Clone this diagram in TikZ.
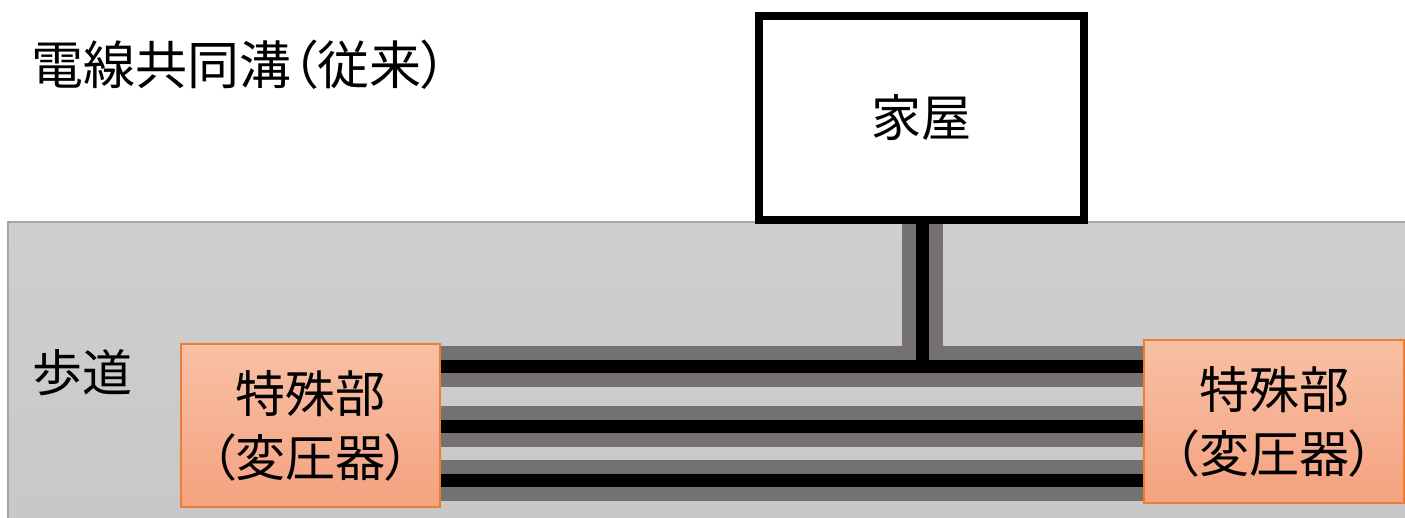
\documentclass[tikz,border=0pt]{standalone}
\usepackage{fontspec}
\setmainfont{Noto Sans CJK JP}[RawFeature={+palt}]
\definecolor{walkfill}{HTML}{CFCFCF}
\definecolor{walkfillb}{HTML}{C8C8C8}
\definecolor{walkline}{HTML}{A6A6A6}
\definecolor{cablegray}{HTML}{767171}
\definecolor{boxtop}{HTML}{F8C0A6}
\definecolor{boxbot}{HTML}{F5A27F}
\definecolor{boxline}{HTML}{ED7D31}
\pgfdeclarelayer{walklayer}
\pgfdeclarelayer{cablelayer}
\pgfsetlayers{walklayer,cablelayer,main}
\tikzset{
  bigtext/.style={font=\fontsize{50}{64}\selectfont, text=black},
  sheath/.style={draw=cablegray, line width=41pt},
  core/.style={draw=black, line width=13pt},
  special/.style={draw=boxline, line width=1.5pt, top color=boxtop, bottom color=boxbot,
    minimum width=259pt, minimum height=163pt, inner sep=0pt, align=center, bigtext},
  housebox/.style={draw=black, line width=8pt, fill=white, minimum width=325pt,
    minimum height=204pt, inner sep=0pt, bigtext},
  label/.style={anchor=west, inner sep=0pt, bigtext}
}
\begin{document}
\begin{tikzpicture}[x=1pt,y=-1pt]
\useasboundingbox (0,0) rectangle (1405,517);
% nodes
\node[housebox] (house) at (921.5,118) {家屋};
\node[special] (L) at (310.5,425.5) {特殊部\\（変圧器）};
\node[special, minimum width=260pt] (R) at (1274,421.5) {特殊部\\（変圧器）};
\node[label] (walk) at (32,373) {歩道};
\node[label, font=\fontsize{52}{64}\selectfont] (title) at (31,65) {電線共同溝（従来）};
\coordinate (c1) at (0,366.5);
\coordinate (c2) at (0,426);
\coordinate (c3) at (0,480.5);
\coordinate (vbot) at (922.5,346);
\coordinate (vjoin) at (922.5,366.5);
% sidewalk
\begin{pgfonlayer}{walklayer}
\path[top color=walkfill, bottom color=walkfillb] (8,222) rectangle (1405,517);
\draw[walkline, line width=1.5pt] (8,517.5) -- (8,222) -- (1406,222);
\end{pgfonlayer}
% cables
\begin{pgfonlayer}{cablelayer}
\draw[sheath] (vbot |- house.south) -- (vbot);
\draw[sheath] (L.east |- c1) -- (R.west |- c1);
\draw[sheath] (L.east |- c2) -- (R.west |- c2);
\draw[sheath] (L.east |- c3) -- (R.west |- c3);
\draw[core] (vjoin |- house.south) -- (vjoin);
\draw[core] (L.east |- c1) -- (R.west |- c1);
\draw[core] (L.east |- c2) -- (R.west |- c2);
\draw[core] (L.east |- c3) -- (R.west |- c3);
\end{pgfonlayer}
\end{tikzpicture}
\end{document}
